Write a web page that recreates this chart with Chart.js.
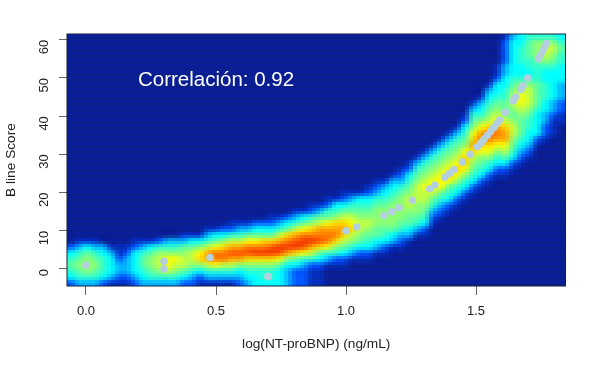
<!DOCTYPE html>
<html>
<head>
<meta charset="utf-8" />
<title>B line Score</title>
<script src="https://cdn.jsdelivr.net/npm/chart.js@4"></script>
<style>
  body { margin: 0; background: #fff; }
  canvas { display: block; }
</style>
</head>
<body>
<canvas id="chart" width="600" height="370"></canvas>
<script>
const xValues = [
  0, 0.3, 0.3, 0.477, 0.7, 1, 1.041, 1.146, 1.176, 1.204, 1.255, 1.322, 1.342,
  1.38, 1.398, 1.415, 1.447, 1.477, 1.505, 1.519, 1.531, 1.544, 1.556, 1.568,
  1.58, 1.591, 1.613, 1.643, 1.653, 1.672, 1.681, 1.699, 1.74, 1.748, 1.756,
  1.763, 1.771,
];
const yValues = [
  1, 2, 0, 3, -2, 10, 11, 14, 15, 16, 18, 21, 22, 24, 25, 26, 28, 30, 32, 33,
  34, 35, 36, 37, 38, 39, 41, 44, 45, 47, 48, 50, 55, 56, 57, 58, 59,
];
const xTicks = [0, 0.5, 1, 1.5];
const xTickLabels = ["0.0", "0.5", "1.0", "1.5"];
const yTicks = [0, 10, 20, 30, 40, 50, 60];
const yTickLabels = ["0", "10", "20", "30", "40", "50", "60"];

// density, one string per column, left to right, top down,
// one hex digit per cell. densityStart is the first non empty row of the column
const densityStart = [
  35, 34, 34, 34, 35, 35, 35, 35, 34, 34, 34, 34, 34, 34, 33, 33, 33, 32, 32,
  32, 31, 31, 31, 31, 31, 30, 30, 30, 29, 29, 28, 28, 27, 27, 26, 26, 26, 25,
  24, 24, 23, 22, 21, 20, 19, 18, 17, 16, 15, 13, 11, 10, 8, 5, 0, 0, 0, 0, 0,
  0, 0, 0,
];
const densityCols = [
  "2456542",
  "13567653",
  "14677753",
  "13567653",
  "3455542",
  "1344431",
  "1123321",
  "1233321",
  "12444432",
  "13566543",
  "14677653",
  "25788753",
  "35799853",
  "35798753",
  "136788642",
  "146887532",
  "1479a7421",
  "1358bb8531",
  "1469cc9531",
  "247acc8531",
  "1258bdb8531",
  "1358bdb7432",
  "1369cda7543",
  "2469cea7544",
  "246acea7554",
  "1246adea7554",
  "1358bed96444",
  "246aceb74333",
  "1358bdea64222",
  "1469ced953222",
  "1257aceb852111",
  "1368bcda642111",
  "12569bcc9531",
  "1457abca7521",
  "12468aba86421",
  "135689a87531",
  "145678876421",
  "1245678765421",
  "1235677766431",
  "1345677765421",
  "1345677776431",
  "12356777765321",
  "12456788766431",
  "13567888776531",
  "135678988765421",
  "13567899865321",
  "13567899965321",
  "1356789a965421",
  "1356789a975421",
  "1245679aa975421",
  "135679aba8765421",
  "134579bca9765421",
  "1345678acca975421",
  "1124456789bcb975421",
  "122223344556678abb986421",
  "34444445678876788765421",
  "4455544578998766654321",
  "566655457888765544321",
  "5777655566665444421",
  "578875445554433221",
  "57876544444332111",
  "456554443332211",
];
const densityRowCount = 42;
const densityColors = [
  "#0a1e9c", "#0430c8", "#0058ff", "#00b4ff", "#00ffff", "#30ffd0", "#5fffa0",
  "#8cff74", "#c0ff44", "#f4ff0c", "#ffd800", "#ffa800", "#ff7c00", "#fa5400",
  "#f23c00", "#d82000",
];

const xLimits = [-0.073, 1.844];
const yLimits = [-4.45, 61.5];
const noteLabel = "Correlación: 0.92";
const noteX = 0.2;
const noteY = 48;

// small bitmap of the grid, blown up in two steps so it keeps the blocky look
function densityImage() {
  const off = document.createElement("canvas");
  off.width = densityCols.length;
  off.height = densityRowCount;
  const c = off.getContext("2d");
  densityCols.forEach((col, i) => {
    for (let r = 0; r < densityRowCount; r++) {
      const digit = r < densityStart[i] ? "0" : col[r - densityStart[i]] || "0";
      c.fillStyle = densityColors[parseInt(digit, 16)];
      c.fillRect(i, r, 1, 1);
    }
  });
  const big = document.createElement("canvas");
  big.width = off.width * 2;
  big.height = off.height * 2;
  const b = big.getContext("2d");
  b.imageSmoothingEnabled = true;
  b.imageSmoothingQuality = "high";
  b.drawImage(off, 0, 0, big.width, big.height);
  // the dark blue part of the reference has faint horizontal stripes
  const img = b.getImageData(0, 0, big.width, big.height);
  for (let y = 1; y < big.height; y += 2) {
    for (let x = 0; x < big.width; x++) {
      const p = (y * big.width + x) * 4;
      if (img.data[p + 1] < 70) img.data[p + 2] *= 0.9;
    }
  }
  b.putImageData(img, 0, 0);
  return big;
}

const density = densityImage();

const densityPlugin = {
  id: "density",
  beforeDatasetsDraw(chart) {
    const { ctx, scales } = chart;
    const left = scales.x.getPixelForValue(xLimits[0]);
    const right = scales.x.getPixelForValue(xLimits[1]);
    const top = scales.y.getPixelForValue(yLimits[1]);
    const bottom = scales.y.getPixelForValue(yLimits[0]);
    ctx.save();
    ctx.imageSmoothingEnabled = false;
    ctx.drawImage(density, left, top, right - left, bottom - top);
    ctx.restore();
  },
  afterDatasetsDraw(chart) {
    const { ctx, scales, chartArea } = chart;
    ctx.save();
    ctx.strokeStyle = "#10203a";
    ctx.lineWidth = 1;
    ctx.strokeRect(
      chartArea.left,
      chartArea.top,
      chartArea.right - chartArea.left,
      chartArea.bottom - chartArea.top
    );
    ctx.fillStyle = "#ffffff";
    ctx.font = '20.5px "Liberation Sans"';
    ctx.fillText(
      noteLabel,
      scales.x.getPixelForValue(noteX),
      scales.y.getPixelForValue(noteY)
    );
    ctx.restore();
  },
};

new Chart(document.getElementById("chart"), {
  type: "scatter",
  data: {
    datasets: [
      {
        label: "B line Score",
        data: xValues.map((x, i) => ({ x: x, y: yValues[i] })),
        pointBackgroundColor: "#b4d0de",
        pointBorderWidth: 0,
        pointRadius: 3.8,
      },
    ],
  },
  options: {
    responsive: false,
    animation: false,
    layout: { padding: { top: 34, right: 34.5 } },
    plugins: { legend: { display: false }, tooltip: { enabled: false } },
    scales: {
      x: {
        type: "linear",
        min: xLimits[0],
        max: xLimits[1],
        afterBuildTicks: (scale) => {
          scale.ticks = xTicks.map((v) => ({ value: v }));
        },
        afterFit: (scale) => {
          scale.height = 84;
        },
        grid: { drawOnChartArea: false, color: "#666", tickLength: 9 },
        border: { display: false },
        ticks: {
          autoSkip: false,
          maxRotation: 0,
          padding: 9,
          color: "#222",
          font: { family: "Liberation Sans", size: 13 },
          callback: (v, i) => xTickLabels[i],
        },
        title: {
          display: true,
          text: "log(NT-proBNP) (ng/mL)",
          color: "#222",
          font: { family: "Liberation Sans", size: 13.7 },
          padding: { top: 0, bottom: 18 },
        },
      },
      y: {
        type: "linear",
        min: yLimits[0],
        max: yLimits[1],
        afterBuildTicks: (scale) => {
          scale.ticks = yTicks.map((v) => ({ value: v }));
        },
        afterFit: (scale) => {
          scale.width = 67;
        },
        grid: { drawOnChartArea: false, color: "#666", tickLength: 8 },
        border: { display: false },
        ticks: {
          autoSkip: false,
          minRotation: 90,
          maxRotation: 90,
          padding: 15,
          color: "#222",
          font: { family: "Liberation Sans", size: 13 },
          callback: (v, i) => yTickLabels[i],
        },
        title: {
          display: true,
          text: "B line Score",
          color: "#222",
          font: { family: "Liberation Sans", size: 13.7 },
          padding: { top: 3, bottom: 0 },
        },
      },
    },
  },
  plugins: [densityPlugin],
});
</script>
</body>
</html>
